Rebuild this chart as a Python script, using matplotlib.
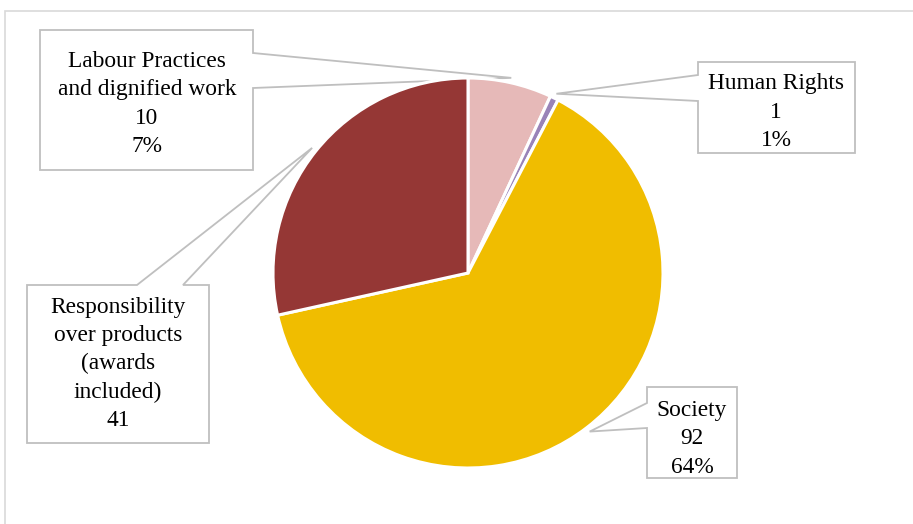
import numpy as np
import matplotlib
matplotlib.use("Agg")
import matplotlib.pyplot as plt
from matplotlib.patches import Polygon, Rectangle

# data
categories = ["Labour Practices\nand dignified work", "Human Rights", "Society",
              "Responsibility\nover products\n(awards\nincluded)"]
counts = [10, 1, 92, 41]
show_pct = [True, True, True, False]
colors = ["#E6B9B8", "#9983B8", "#F0BD00", "#953735"]

W, H = 913, 524
CX, CY, R = 468, 273, 195


def py(y):
    # pixel row (top-down) -> data y (bottom-up)
    return H - y


# callout boxes: (left, top, right, bottom), side of notch, notch span, text centre
boxes = [
    ((40, 30, 253, 170), "right", (53, 88), (147, 104)),
    ((698, 62, 855, 153), "left", (75, 101), (776, 112)),
    ((647, 387, 737, 478), "left", (403, 428), (692, 439)),
    ((27, 285, 209, 443), "top", (137, 183), (118, 364)),
]

fig = plt.figure(figsize=(W / 100, H / 100), dpi=100)
ax = fig.add_axes([0, 0, 1, 1])

# outer chart frame
ax.add_patch(Rectangle((5, -10), W + 20, py(11) + 10, fill=False,
                       ec="#D9D9D9", lw=1.2, zorder=0))

wedges, _ = ax.pie(counts, colors=colors, startangle=90, counterclock=False,
                   center=(CX, py(CY)), radius=R, frame=True,
                   wedgeprops=dict(edgecolor="white", linewidth=2.2, zorder=2))
ax.set_xlim(0, W)
ax.set_ylim(0, H)
ax.set_aspect("equal")
ax.axis("off")

total = sum(counts)
for w, cat, n, pct, (box, side, span, tc) in zip(wedges, categories, counts,
                                                  show_pct, boxes):
    ang = np.deg2rad((w.theta1 + w.theta2) / 2)
    tip = R * 1.025
    px_, py_ = CX + tip * np.cos(ang), py(CY) + tip * np.sin(ang)
    l, t, r, b = box
    if side == "right":
        verts = [(l, t), (r, t), (r, span[0]), None, (r, span[1]), (r, b), (l, b)]
    elif side == "left":
        verts = [(l, t), (r, t), (r, b), (l, b), (l, span[1]), None, (l, span[0])]
    else:
        verts = [(l, t), (span[0], t), None, (span[1], t), (r, t), (r, b), (l, b)]
    pts = [(px_, py_) if v is None else (v[0], py(v[1])) for v in verts]
    ax.add_patch(Polygon(pts, closed=True, fc="white", ec="#BFBFBF", lw=1.3,
                         zorder=1))
    label = f"{cat}\n{n}"
    if pct:
        label += f"\n{n / total:.0%}"
    ax.text(tc[0], py(tc[1]), label, ha="center", va="center", fontsize=16.8,
            family="Liberation Serif", linespacing=1.45, zorder=4)

fig.savefig("out.png", dpi=100)
